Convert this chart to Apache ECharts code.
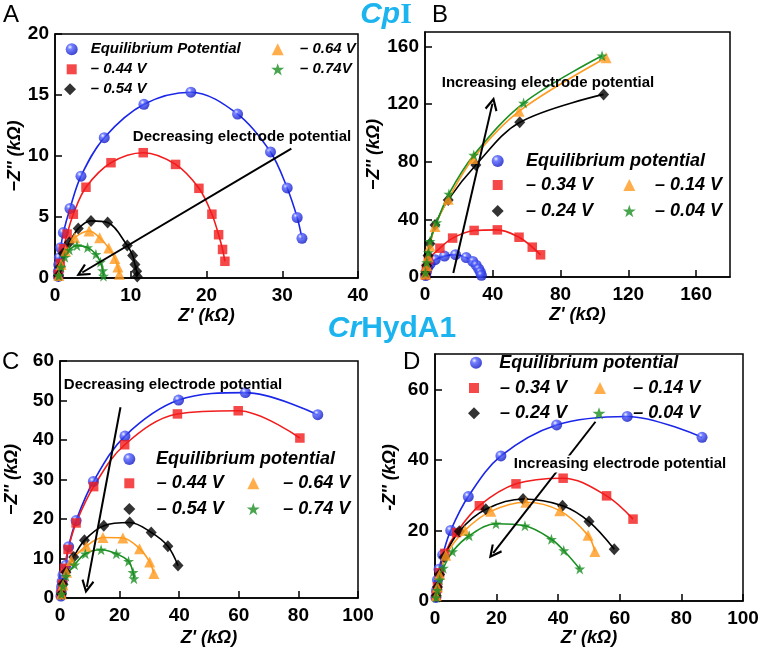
<!DOCTYPE html>
<html><head><meta charset="utf-8">
<script src="https://cdn.jsdelivr.net/npm/echarts@6/dist/echarts.min.js"></script>
<style>html,body{margin:0;padding:0;background:#fff}#c{width:762px;height:655px}</style>
</head><body><div id="c"></div>
<script>
// ---------- DATA (Z', -Z'' in kΩ) ----------
// Panel A – CpI, decreasing potential
const aEq  = [[0.44,0.13],[0.44,0.55],[0.49,1.1],[0.57,1.65],[0.75,2.48],[1.1,3.72],[1.98,5.7],[3.43,8.35],[6.5,11.5],[11.74,14.24],[17.94,15.23],[24.1,13.44],[28.45,10.33],[30.65,7.38],[31.97,4.96],[32.6,3.25]];
const aM44 = [[0.45,0.3],[0.7,1.2],[1.1,2.4],[1.6,3.6],[2.42,5.23],[4.09,7.44],[7.39,9.45],[11.65,10.27],[15.92,9.31],[19.0,7.35],[20.71,5.23],[21.6,3.55],[22.12,2.34],[22.43,1.37]];
const aM54 = [[0.45,0.2],[0.7,0.9],[1.1,2.0],[1.89,2.9],[3.07,4.05],[4.75,4.68],[6.95,4.55],[9.54,2.67],[10.25,1.84],[10.55,1.1],[10.78,0.55],[10.86,0.13]];
const aM64 = [[0.5,0.2],[0.8,1.1],[1.4,2.2],[2.6,3.3],[4.5,3.85],[5.9,3.3],[7.1,2.45],[7.9,1.6],[8.3,0.9],[8.5,0.3]];
const aM74 = [[0.5,0.2],[0.8,0.9],[1.3,1.7],[1.9,2.3],[2.9,2.65],[4.3,2.5],[5.4,1.95],[6.0,1.3],[6.3,0.6],[6.4,0.15]];
const aArrow = [[31.2,10.6],[3.6,0.45]];
// Panel B – CpI, increasing potential
const bEq  = [[0.4,1],[0.8,3.5],[1.5,6.5],[3,9],[6,12],[11.5,14.5],[18,15.5],[24.3,13.5],[28.2,10.8],[30.2,8.2],[31.7,5.6],[32.7,3.3],[33.3,1.2]];
const bM34 = [[0.3,1.5],[0.8,6],[2,12],[8.8,20],[16.3,27],[29,32.3],[42.7,32.7],[55.5,27.6],[63.3,20.7],[68.2,15.4]];
const bM24 = [[0.3,2],[1,8],[1.8,15],[2.9,23],[5.9,36],[13.7,53.5],[30,77.7],[55.9,107.3],[105.4,126.7]];
const bM14 = [[0.3,2],[1,8],[1.8,14],[2.9,21.5],[5.9,35],[13.7,54],[28.4,82.3],[55.5,115],[106.9,152.1]];
const bM04 = [[0.3,3],[1,10],[2,17],[2.9,24.7],[6.9,37.8],[14.1,57.6],[28.8,84.6],[58.2,120.7],[104.5,153.5]];
const bArrow = [[16.7,2.8],[39.8,120.3]];
// Panel C – CrHydA1, decreasing potential
const cEq  = [[0.3,0.5],[0.4,1.5],[0.5,2.8],[0.7,4.2],[1.0,5.8],[2.0,8.3],[2.9,13],[5.4,19.6],[11.2,29.5],[21.8,41],[39.8,50.1],[62.2,52],[86.5,46.4]];
const cM44 = [[0.4,1],[0.8,3.5],[1.5,7.5],[2.7,12.3],[5.4,19],[11.3,28.2],[21.7,38.8],[39.4,46.6],[59.8,47.4],[80.5,40.5]];
const cM54 = [[0.5,1],[1,3.5],[2,6.5],[4.6,10.4],[8.2,14.6],[14.7,18.3],[23.4,19.1],[30.6,16.6],[36.2,13.1],[39.6,8.2]];
const cM64 = [[0.5,1],[1,3.3],[2.2,6.5],[3.8,9.5],[8.8,13.1],[14.4,15.3],[21.1,15.2],[26.7,12.5],[30.1,9.1],[31.5,6.2]];
const cM74 = [[0.5,1],[1,3],[2,5.5],[4.9,8.4],[8.5,11.2],[13.8,12.2],[18.9,11.2],[23,9.3],[24.5,6.5],[24.8,4.9]];
const cArrow = [[20.3,48.3],[9.0,2.8]];
// Panel D – CrHydA1, increasing potential
const dEq  = [[0.3,1],[0.5,3],[0.8,6],[1.3,9],[2.5,13.1],[5.1,20],[10.8,29.6],[21.4,41.1],[39.5,49.9],[62.4,52.3],[86.7,46.4]];
const dM34 = [[0.4,1.5],[0.8,4],[1.5,8],[3.2,13.5],[7,19.4],[14.4,27],[26.3,33.2],[41.6,34.8],[55.7,29.8],[64.3,23.2]];
const dM24 = [[0.4,1.5],[0.8,4],[1.5,7.5],[3,12.5],[7.9,19.8],[16.5,26],[28.6,28.9],[41.4,27],[50,22.5],[58.2,14.7]];
const dM14 = [[0.4,1.5],[0.8,4],[1.5,7.5],[3.5,13],[9.7,20],[18.1,25.4],[29.5,28],[40.5,25.6],[49.7,18.6],[51.9,14]];
const dM04 = [[0.4,1],[0.8,3],[1.5,6],[2.7,9.3],[5.7,14],[11.1,18.5],[19.8,21.9],[29.2,21.3],[37.8,17.5],[41.8,14.3],[47,9.1]];
const dArrow = [[52.1,50.8],[18.9,13.6]];

// axis ranges [xMax, xInterval, yMax, yInterval]
const axA = [40,10,20,5], axB = [180,40,170,40], axC = [100,20,60,10], axD = [100,20,70,20];
const namesA = ['Equilibrium Potential','\u2013 0.44 V','\u2013 0.54 V','\u2013 0.64 V','\u2013 0.74V'];
const namesB = ['Equilibrium potential','\u2013 0.34 V','\u2013 0.24 V','\u2013 0.14 V','\u2013 0.04 V'];
const namesC = ['Equilibrium potential','\u2013 0.44 V','\u2013 0.54 V','\u2013 0.64 V','\u2013 0.74 V'];
const namesD = namesB;
const xTitle = "Z' (k\u03A9)";
const yTitles = ["\u2212Z'' (k\u03A9)","\u2212Z'' (k\u03A9)","\u2212Z'' (k\u03A9)","-Z'' (k\u03A9)"];

// ---------- STYLE ----------
const FONT = '"Liberation Sans", Arial, sans-serif';
const CYAN = '#1cb4ef';
const blueBall = {type:'radial', x:0.36, y:0.32, r:0.72, colorStops:[{offset:0,color:'#f2f4ff'},{offset:0.28,color:'#5060ff'},{offset:1,color:'#0a12c0'}]};
const STAR = 'path://M50,0 L61.8,35.3 L99,35.3 L69,57.6 L80.3,92.7 L50,71 L19.7,92.7 L31,57.6 L1,35.3 L38.2,35.3 Z';
const ARROW = 'path://M5,0 L10,9 L8.6,9.8 L5,3.4 L1.4,9.8 L0,9 Z';
const STY = [
  {symbol:'circle',   size:11, fill:blueBall, line:'#1a26e8', ls:12},
  {symbol:'rect',     size:9.5, fill:'#f21c1c', line:'#f21c1c', ls:10},
  {symbol:'diamond',  size:[11,12], fill:'#000', line:'#000', ls:12},
  {symbol:'triangle', size:11, fill:'#ff9a1e', line:'#ff9a1e', ls:12},
  {symbol:STAR,       size:11, fill:'#1a8f22', line:'#1a8f22', ls:13}
];

const grids = [
  {left:55, top:34, width:303, height:244},
  {left:425, top:32, width:305, height:245},
  {left:60, top:361, width:298, height:237},
  {left:435, top:354, width:308, height:247}
];
const axes = [axA, axB, axC, axD];
const hideMax = [[false,false],[true,true],[false,false],[false,true]];
const xNameGap = [29, 29, 31, 28];
const yNameGap = [31, 32, 39, 36];

const xAxis = [], yAxis = [];
axes.forEach((a, i) => {
  const common = {
    type:'value', gridIndex:i, min:0,
    axisLine:{show:true, onZero:false, lineStyle:{color:'#000', width:1.5}},
    axisTick:{show:true, inside:true, length:7, lineStyle:{color:'#000', width:1.5}},
    splitLine:{show:false},
    nameTextStyle:{fontFamily:FONT, fontWeight:'bold', fontStyle:'italic', fontSize:18, color:'#000'},
    nameLocation:'middle'
  };
  xAxis.push(Object.assign({}, common, {max:a[0], interval:a[1], name:xTitle, nameGap:xNameGap[i],
    axisLabel:{fontFamily:FONT, fontWeight:'bold', fontSize:19, color:'#000', margin:8, showMaxLabel:!hideMax[i][0]}}));
  yAxis.push(Object.assign({}, common, {max:a[2], interval:a[3], name:yTitles[i], nameGap:yNameGap[i], nameRotate:90,
    axisLabel:{fontFamily:FONT, fontWeight:'bold', fontSize:19, color:'#000', margin:6, showMaxLabel:!hideMax[i][1]}}));
});

const panels = [
  {names:namesA, data:[aEq,aM44,aM54,aM64,aM74], arrow:aArrow},
  {names:namesB, data:[bEq,bM34,bM24,bM14,bM04], arrow:bArrow},
  {names:namesC, data:[cEq,cM44,cM54,cM64,cM74], arrow:cArrow},
  {names:namesD, data:[dEq,dM34,dM24,dM14,dM04], arrow:dArrow}
];

const series = [];
panels.forEach((p, gi) => {
  p.data.forEach((d, k) => {
    const s = STY[k];
    const line = {
      type:'line', name:'fit'+gi+'_'+k, xAxisIndex:gi, yAxisIndex:gi, data:d,
      smooth:0.35, symbol:'none', showSymbol:false, silent:true, z:2,
      lineStyle:{color:s.line, width:1.6}
    };
    if (k === 0) {
      line.markLine = {
        silent:true, symbol:['none', ARROW], symbolSize:[13,14], label:{show:false},
        lineStyle:{color:'#000', width:2, type:'solid'},
        data:[[{coord:p.arrow[0]},{coord:p.arrow[1]}]]
      };
    }
    series.push(line);
    series.push({
      type:'scatter', name:p.names[k], xAxisIndex:gi, yAxisIndex:gi, data:d,
      symbol:s.symbol, symbolSize:s.size, z:3,
      itemStyle:{color:s.fill}
    });
  });
});

// legend positions: [panel, idx, iconCenterX, iconCenterY, textStartX, fontSize]
const legendPos = [
  [0,0,71.7,49.3,90.7,15],[0,1,71.7,69.3,90.7,15],[0,2,70,89.3,90.7,15],[0,3,277.7,49.3,300,15],[0,4,277.7,69.3,300,15],
  [1,0,497.7,161,526,18],[1,1,497.7,185,526,18],[1,2,497.7,211,526,18],[1,3,629.3,185,655,18],[1,4,629.3,211,655,18],
  [2,0,129.3,459,156,18],[2,1,129.3,483.3,156.7,18],[2,2,129.3,509,156.7,18],[2,3,253.3,483.3,283.3,18],[2,4,253.3,509,283.3,18],
  [3,0,476,362.7,499.3,18],[3,1,474,388,500,18],[3,2,474,413.3,500,18],[3,3,600,388,633.3,18],[3,4,599,413.3,633.3,18]
];
const legend = legendPos.map(([pi,k,cx,cy,tx,fs]) => {
  const S = STY[k].ls;
  return {
    selectedMode:false, data:[panels[pi].names[k]], orient:'horizontal',
    left:cx - S/2, top:cy - fs/2, padding:0, itemWidth:S, itemHeight:S, itemGap:0,
    textStyle:{fontFamily:FONT, fontWeight:'bold', fontStyle:'italic', fontSize:fs, color:'#000',
      padding:[0,0,0,Math.max(0, tx - cx - S/2 - 5)]}
  };
});

const annot = (text, x, y, bg) => ({
  type:'text', x:x, y:y, z:100,
  style:{text:text, fill:'#000', font:'bold 15px ' + FONT, align:'center', verticalAlign:'middle',
    backgroundColor: bg ? '#fff' : 'transparent', padding: bg ? [1,2] : 0}
});
const letter = (t, x, y) => ({type:'text', x:x, y:y, z:100, style:{text:t, fill:'#000', font:'24px ' + FONT, align:'left', verticalAlign:'top'}});

const graphic = [
  letter('A', 3, 3), letter('B', 432, 3), letter('C', 2, 350), letter('D', 403, 350),
  {type:'text', x:386, y:15, z:100, style:{text:'{a|Cp}{b|I}', align:'center', verticalAlign:'middle',
    rich:{a:{font:'italic bold 30px ' + FONT, fill:CYAN}, b:{font:'bold 30px "Liberation Serif", "Times New Roman", serif', fill:CYAN}}}},
  {type:'text', x:392, y:329, z:100, style:{text:'{a|Cr}{b|HydA1}', align:'center', verticalAlign:'middle',
    rich:{a:{font:'italic bold 30px ' + FONT, fill:CYAN}, b:{font:'bold 30px ' + FONT, fill:CYAN}}}},
  annot('Decreasing electrode potential', 242, 137, false),
  annot('Increasing electrode potential', 548, 83, false),
  annot('Decreasing electrode potential', 173, 385, false),
  annot('Increasing electrode potential', 620, 464, true)
];

const chart = echarts.init(document.getElementById('c'), null, {renderer:'canvas'});
chart.setOption({
  animation:false,
  backgroundColor:'#fff',
  grid: grids.map(g => Object.assign({show:true, borderColor:'#000', borderWidth:1.5, backgroundColor:'transparent'}, g)),
  xAxis, yAxis, series, legend, graphic
});
</script>
</body></html>
